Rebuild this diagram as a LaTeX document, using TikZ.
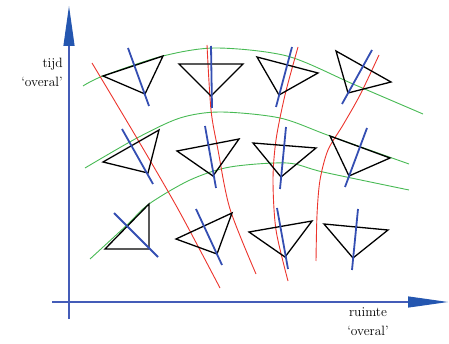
\documentclass[tikz,border=0pt]{standalone}
\usepackage{tikz}
\usetikzlibrary{arrows.meta}
\definecolor{axisblue}{RGB}{68,92,184}
\definecolor{tipblue}{RGB}{36,86,176}
\definecolor{markblue}{RGB}{52,78,178}
\definecolor{worldred}{RGB}{236,52,44}
\definecolor{surfgreen}{RGB}{72,186,84}
\tikzset{
  axis/.style={draw=axisblue,line width=1.2pt,
    -{Triangle[length=40pt,width=11pt,color=tipblue]}},
  axislabel/.style={font=\fontsize{13.5}{19}\selectfont,inner sep=0pt},
  cone/.style={draw=black,line width=1.3pt},
  clock/.style={draw=markblue,line width=1.8pt},
  worldline/.style={draw=worldred,line width=0.9pt},
  surface/.style={draw=surfgreen,line width=0.9pt}
}

\begin{document}
\begin{tikzpicture}[x=1pt,y=-1pt]
  \useasboundingbox (0,0) rectangle (449,344);
  \coordinate (vbot) at (69,319);
  \coordinate (vtop) at (69,6);
  \coordinate (hleft) at (52,302);
  \coordinate (hright) at (448,302);
  \draw[axis] (vbot) -- (vtop);
  \draw[axis] (hleft) -- (hright);
  \node[axislabel,anchor=north east,align=right] (timelabel) at (63,58) {tijd\\`overal'};
  \node[axislabel,anchor=north,align=center] (spacelabel) at (368,307) {ruimte\\`overal'};
  % surfaces of simultaneity
  \draw[surface] plot[smooth] coordinates {(83,86) (103,76) (163,56) (216,48) (287,56) (353,84) (423,114)};
  \draw[surface] plot[smooth] coordinates {(85,168) (137,138) (180,118) (220,112) (280,118) (330,136) (409,164)};
  \draw[surface] plot[smooth] coordinates {(90,259) (127,225) (149,204) (190,180) (230,167) (287,163) (323,172) (409,190)};
  % world lines
  \draw[worldline] plot[smooth] coordinates {(92,63) (138,140) (178,209) (220,288)};
  \draw[worldline] plot[smooth] coordinates {(207,45) (211,110) (218,150) (230,209) (256,274)};
  \draw[worldline] plot[smooth] coordinates {(298,47) (285,95) (276,140) (273,180) (276,230) (288,281)};
  \draw[worldline] plot[smooth] coordinates {(379,55) (360,95) (343,125) (328,150) (320,180) (317,215) (316,261)};
  % light cones
  \draw[cone] (103,76) -- (163,56) -- (145,94) -- cycle;
  \draw[cone] (179,64) -- (243,64) -- (211,96) -- cycle;
  \draw[cone] (257,57) -- (318,73) -- (279,95) -- cycle;
  \draw[cone] (336,51) -- (391,82) -- (348,93) -- cycle;
  \draw[cone] (103,162) -- (159,130) -- (148,173) -- cycle;
  \draw[cone] (177,151) -- (239,139) -- (213,176) -- cycle;
  \draw[cone] (253,143) -- (316,148) -- (281,177) -- cycle;
  \draw[cone] (330,136) -- (390,158) -- (349,176) -- cycle;
  \draw[cone] (105,249) -- (149,204) -- (149,249) -- cycle;
  \draw[cone] (176,239) -- (232,213) -- (217,254) -- cycle;
  \draw[cone] (249,232) -- (312,221) -- (285,257) -- cycle;
  \draw[cone] (324,224) -- (388,230) -- (353,258) -- cycle;
  % local time axes
  \draw[clock] (128,48) -- (149,106);
  \draw[clock] (211,46) -- (212,108);
  \draw[clock] (292,47) -- (276,107);
  \draw[clock] (372,50) -- (342,104);
  \draw[clock] (122,129) -- (153,184);
  \draw[clock] (205,126) -- (216,188);
  \draw[clock] (286,127) -- (280,189);
  \draw[clock] (367,128) -- (345,187);
  \draw[clock] (114,213) -- (158,257);
  \draw[clock] (196,209) -- (222,265);
  \draw[clock] (277,208) -- (288,269);
  \draw[clock] (358,209) -- (352,270);
\end{tikzpicture}
\end{document}
